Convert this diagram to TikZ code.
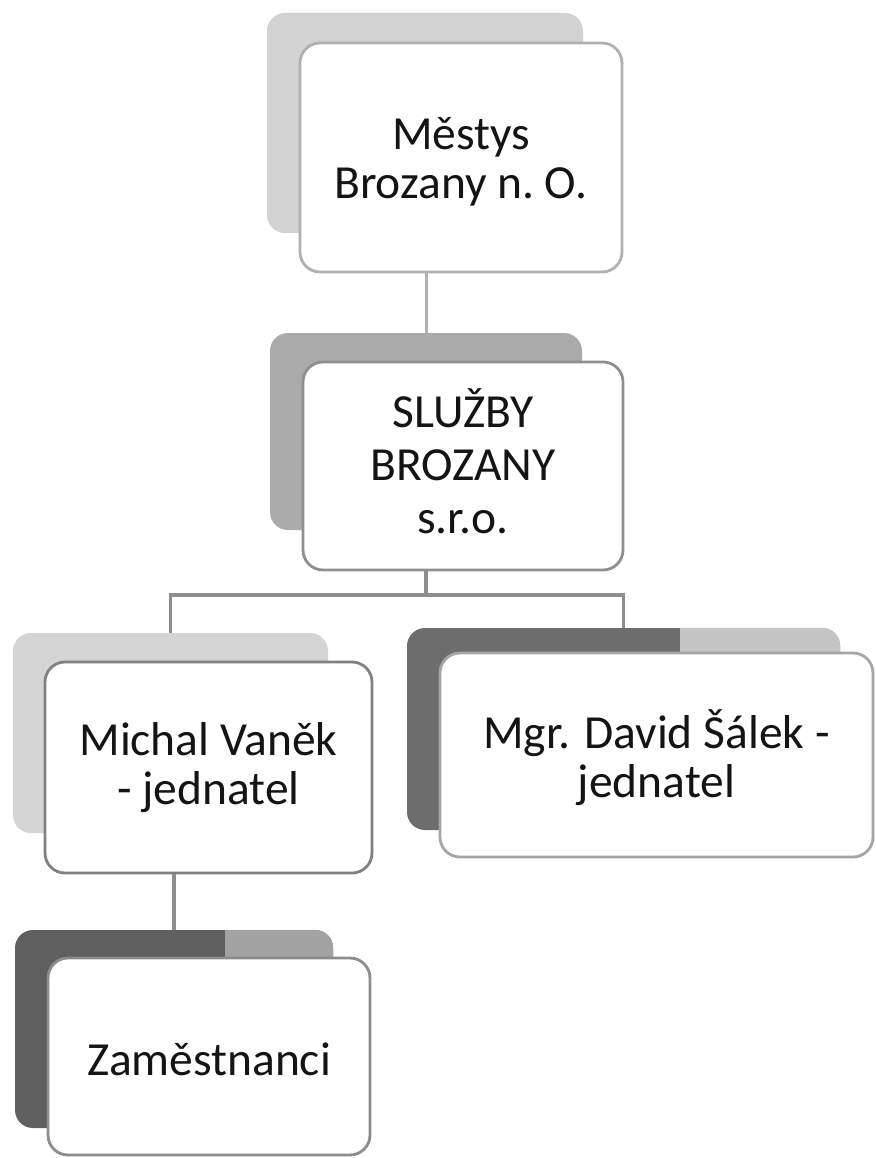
\documentclass[tikz,border=0pt]{standalone}
\usepackage{fontspec}
\setmainfont{Carlito}
\definecolor{backA}{HTML}{D2D2D2}
\definecolor{backB}{HTML}{AAAAAA}
\definecolor{backC}{HTML}{D4D4D4}
\definecolor{backDdark}{HTML}{6D6D6D}
\definecolor{backDlight}{HTML}{C4C4C4}
\definecolor{backEdark}{HTML}{5F5F5F}
\definecolor{backElight}{HTML}{A3A3A3}
\definecolor{lineA}{HTML}{B0B0B0}
\definecolor{lineB}{HTML}{8F8F8F}
\definecolor{lineC}{HTML}{808080}
\definecolor{lineD}{HTML}{A5A5A5}
\definecolor{lineE}{HTML}{8C8C8C}
\definecolor{connc}{HTML}{8E8E8E}
\definecolor{txt}{HTML}{141414}
\begin{document}
\begin{tikzpicture}[x=1pt,y=-1pt,
  backbox/.style={rectangle, rounded corners=18pt, draw=none, inner sep=0pt},
  frontbox/.style={rectangle, rounded corners=20pt, line width=2.8pt, fill=white,
    inner sep=0pt, text=txt, font=\fontsize{47.5}{49}\selectfont},
  conn/.style={draw=connc, line width=3.5pt}]
\useasboundingbox[fill=white] (0,0) rectangle (875,1158);

% back shapes
\node[backbox, fill=backA, minimum width=316pt, minimum height=220pt] (b1) at (425,123) {};
\node[backbox, fill=backB, minimum width=312pt, minimum height=197pt] (b2) at (426,431.5) {};
\node[backbox, fill=backC, minimum width=315pt, minimum height=200pt] (b3) at (170.5,733) {};
\node[backbox, fill=backDdark, minimum width=433pt, minimum height=202pt] (b4) at (623.5,729) {};
\node[backbox, fill=backEdark, minimum width=318pt, minimum height=198pt] (b5) at (174,1029) {};
\begin{scope}
  \clip[rounded corners=18pt] (b4.north west) rectangle (b4.south east);
  \fill[backDlight] (680,620) rectangle (850,660);
\end{scope}
\begin{scope}
  \clip[rounded corners=18pt] (b5.north west) rectangle (b5.south east);
  \fill[backElight] (225,920) rectangle (340,965);
\end{scope}

% front boxes
\node[frontbox, draw=lineA, minimum width=322pt, minimum height=229pt,
  text height=0pt, text depth=15pt] (f1) at (461,157.5)
  {\begin{tabular}[t]{@{}c@{}}Městys\\Brozany n.~O.\end{tabular}};
\node[frontbox, draw=lineB, minimum width=320pt, minimum height=208pt,
  text height=0pt, text depth=78pt, font=\fontsize{47.5}{53}\selectfont] (f2) at (463,466)
  {\begin{tabular}[t]{@{}c@{}}SLUŽBY\\BROZANY\\s.r.o.\end{tabular}};
\node[frontbox, draw=lineC, minimum width=327pt, minimum height=211pt,
  text height=0pt, text depth=25pt] (f3) at (208.5,767.5)
  {\begin{tabular}[t]{@{}c@{}}Michal Vaněk\\- jednatel\end{tabular}};
\node[frontbox, draw=lineD, minimum width=433pt, minimum height=204pt,
  text height=0pt, text depth=14pt] (f4) at (656.5,755)
  {\begin{tabular}[t]{@{}c@{}}Mgr. David Šálek -\\jednatel\end{tabular}};
\node[frontbox, draw=lineE, minimum width=322pt, minimum height=197pt,
  text height=37pt, text depth=0pt] (f5) at (209,1056.5)
  {Zaměstnanci};

% connectors
\coordinate (bus) at (0,595);
\draw[conn, draw=lineA, line width=3pt] (f1.south -| b2.north) -- (b2.north);
\draw[conn] (f2.south -| b2.south) -- (bus -| b2.south) -| (b3.north);
\draw[conn] (bus -| b2.south) -| (b4.north);
\draw[conn] (f3.south -| b5.north) -- (b5.north);
\end{tikzpicture}
\end{document}
